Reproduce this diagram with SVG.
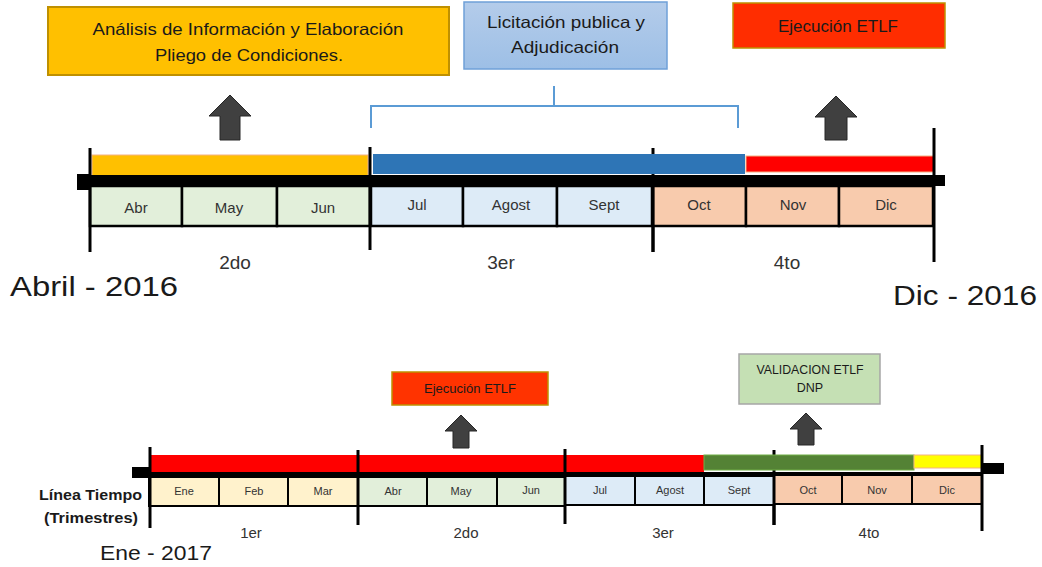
<svg xmlns="http://www.w3.org/2000/svg" width="1042" height="567" viewBox="0 0 1042 567">
<style>
text{font-family:"Liberation Sans","Open Sans",sans-serif;fill:#1a1a1a;text-anchor:middle}
.box1{font-size:16.5px}
.mt{font-size:15px;fill:#333}
.mb{font-size:11px;fill:#333}
.q{font-size:19px;fill:#333}
.qb{font-size:15px;fill:#333}
.big{font-size:27px;text-anchor:start}
.lbl{font-size:15px;font-weight:bold;text-anchor:end}
.arrow{fill:#404040;stroke:#262626;stroke-width:1}
.tick{stroke:#000;stroke-width:3}
.cell{stroke:#000;stroke-width:2.5}
.q1{fill:#FFF2CC}.q2{fill:#E2EFDA}.q3{fill:#DDEBF7}.q4{fill:#F8CBAD}
</style>
<defs>
<linearGradient id="bl" x1="0" y1="0" x2="0" y2="1">
<stop offset="0" stop-color="#B4CCEA"/><stop offset="1" stop-color="#9DBFE6"/>
</linearGradient>
</defs>

<g id="box-analisis">
<rect x="48" y="7" width="401" height="68" fill="#FFC000" stroke="#BF9000" stroke-width="2"/>
<text class="box1" x="248" y="35" textLength="311" lengthAdjust="spacingAndGlyphs">Análisis de Información y Elaboración</text>
<text class="box1" x="249" y="61" textLength="188" lengthAdjust="spacingAndGlyphs">Pliego de Condiciones.</text>
</g>
<g id="box-licitacion">
<rect x="464" y="2" width="203" height="67" fill="url(#bl)" stroke="#6FA0D8" stroke-width="1.5"/>
<text class="box1" x="566" y="28" textLength="158" lengthAdjust="spacingAndGlyphs">Licitación publica y</text>
<text class="box1" x="565" y="53" textLength="108" lengthAdjust="spacingAndGlyphs">Adjudicación</text>
</g>
<g id="box-ejecucion-top">
<rect x="733" y="3" width="212" height="45" fill="#FF2D00" stroke="#C09000" stroke-width="1.5"/>
<text class="box1" x="838" y="32" textLength="120" lengthAdjust="spacingAndGlyphs">Ejecución ETLF</text>
</g>
<g id="box-ejecucion-bottom">
<rect x="392" y="372" width="156" height="33" fill="#FF3300" stroke="#BF9000" stroke-width="1.5"/>
<text x="470" y="393" style="font-size:12.5px" textLength="92" lengthAdjust="spacingAndGlyphs">Ejecución ETLF</text>
</g>
<g id="box-validacion">
<rect x="739" y="354" width="141" height="50" fill="#C5E0B4" stroke="#A6A6A6" stroke-width="1.5"/>
<text x="810" y="374" style="font-size:12.5px" textLength="107" lengthAdjust="spacingAndGlyphs">VALIDACION ETLF</text>
<text x="810" y="392" style="font-size:12.5px">DNP</text>
</g>

<g id="connectors">
<path class="arrow" d="M230,95 L251,116 L240,116 L240,140 L220,140 L220,116 L209,116 Z"/>
<path class="arrow" d="M836,96 L857,117 L847,117 L847,140 L825,140 L825,117 L815,117 Z"/>
<path class="arrow" d="M461,415 L477,431 L469,431 L469,448 L453,448 L453,431 L445,431 Z"/>
<path class="arrow" d="M806,413 L822,429 L814,429 L814,445 L798,445 L798,429 L790,429 Z"/>
<path d="M371,128 V106 H738 V128 M554,106 V86" fill="none" stroke="#5B9BD5" stroke-width="2"/>
</g>

<g id="timeline-2016">
<line class="tick" x1="653" y1="148" x2="653" y2="252"/>
<rect x="92" y="155" width="276" height="22" fill="#FFC000" stroke="#F4B183" stroke-width="1"/>
<rect x="373" y="154" width="372" height="20" fill="#2E75B6"/>
<rect x="746" y="156" width="188" height="16" fill="#FF0000" stroke="#F4B183" stroke-width="1"/>
<rect x="77" y="175" width="868" height="11" fill="#000"/>
<rect x="77" y="174" width="13" height="16" fill="#000"/>
<rect class="cell q2" x="90" y="186" width="92" height="40"/>
<rect class="cell q2" x="182" y="186" width="95" height="40"/>
<rect class="cell q2" x="277" y="186" width="93" height="40"/>
<rect class="cell q3" x="371" y="186" width="92" height="40"/>
<rect class="cell q3" x="463" y="186" width="94" height="40"/>
<rect class="cell q3" x="557" y="186" width="95" height="40"/>
<rect class="cell q4" x="653" y="186" width="93" height="40"/>
<rect class="cell q4" x="746" y="186" width="93" height="40"/>
<rect class="cell q4" x="839" y="186" width="94" height="40"/>
<line class="tick" x1="90" y1="148" x2="90" y2="252"/>
<line class="tick" x1="370" y1="147" x2="370" y2="250"/>
<line class="tick" x1="653" y1="186" x2="653" y2="252"/>
<line class="tick" x1="934" y1="128" x2="934" y2="262"/>
<text class="mt" x="136" y="213">Abr</text>
<text class="mt" x="229" y="213">May</text>
<text class="mt" x="323" y="213">Jun</text>
<text class="mt" x="417" y="210">Jul</text>
<text class="mt" x="511" y="210">Agost</text>
<text class="mt" x="604" y="210">Sept</text>
<text class="mt" x="699" y="210">Oct</text>
<text class="mt" x="793" y="210">Nov</text>
<text class="mt" x="886" y="210">Dic</text>
<text class="q" x="235" y="269">2do</text>
<text class="q" x="501" y="269">3er</text>
<text class="q" x="787" y="269">4to</text>
<text class="big" x="10" y="296" textLength="168" lengthAdjust="spacingAndGlyphs">Abril - 2016</text>
<text class="big" x="893" y="305" textLength="144" lengthAdjust="spacingAndGlyphs">Dic - 2016</text>
</g>

<g id="timeline-2017">
<line class="tick" x1="774" y1="450" x2="774" y2="525"/>
<rect x="150" y="455" width="554" height="18" fill="#FF0000"/>
<rect x="704" y="455" width="210" height="15" fill="#548235" stroke="#70AD47" stroke-width="1"/>
<rect x="914" y="455" width="68" height="13" fill="#FFFF00" stroke="#F4B183" stroke-width="1"/>
<rect x="150" y="472" width="832" height="6" fill="#000"/>
<rect x="132" y="467" width="18" height="11" fill="#000"/>
<rect x="982" y="463" width="22" height="11" fill="#000"/>
<rect class="cell q1" x="149" y="477" width="70" height="29" style="stroke-width:2"/>
<rect class="cell q1" x="219" y="477" width="69" height="29" style="stroke-width:2"/>
<rect class="cell q1" x="288" y="477" width="70" height="29" style="stroke-width:2"/>
<rect class="cell q2" x="358" y="477" width="69" height="29" style="stroke-width:2"/>
<rect class="cell q2" x="427" y="477" width="70" height="29" style="stroke-width:2"/>
<rect class="cell q2" x="497" y="477" width="68" height="29" style="stroke-width:2"/>
<rect class="cell q3" x="565" y="476" width="70" height="29" style="stroke-width:2"/>
<rect class="cell q3" x="635" y="476" width="69" height="29" style="stroke-width:2"/>
<rect class="cell q3" x="704" y="476" width="70" height="29" style="stroke-width:2"/>
<rect class="cell q4" x="774" y="475" width="68" height="29" style="stroke-width:2"/>
<rect class="cell q4" x="842" y="475" width="70" height="29" style="stroke-width:2"/>
<rect class="cell q4" x="912" y="475" width="70" height="29" style="stroke-width:2"/>
<line class="tick" x1="150" y1="447" x2="150" y2="528"/>
<line class="tick" x1="358" y1="450" x2="358" y2="525"/>
<line class="tick" x1="565" y1="449" x2="565" y2="524"/>
<line class="tick" x1="774" y1="474" x2="774" y2="525"/>
<line class="tick" x1="982" y1="445" x2="982" y2="531"/>
<text class="mb" x="184" y="495">Ene</text>
<text class="mb" x="254" y="495">Feb</text>
<text class="mb" x="323" y="495">Mar</text>
<text class="mb" x="393" y="495">Abr</text>
<text class="mb" x="461" y="495">May</text>
<text class="mb" x="531" y="494">Jun</text>
<text class="mb" x="600" y="494">Jul</text>
<text class="mb" x="670" y="494">Agost</text>
<text class="mb" x="739" y="494">Sept</text>
<text class="mb" x="808" y="494">Oct</text>
<text class="mb" x="877" y="494">Nov</text>
<text class="mb" x="947" y="494">Dic</text>
<text class="qb" x="251" y="538">1er</text>
<text class="qb" x="466" y="538">2do</text>
<text class="qb" x="663" y="538">3er</text>
<text class="qb" x="869" y="538">4to</text>
<text class="lbl" x="142" y="500" textLength="103" lengthAdjust="spacingAndGlyphs">Línea Tiempo</text>
<text class="lbl" x="138" y="523" textLength="94" lengthAdjust="spacingAndGlyphs">(Trimestres)</text>
<text x="100" y="560" style="font-size:21px;text-anchor:start" textLength="112" lengthAdjust="spacingAndGlyphs">Ene - 2017</text>
</g>
</svg>
